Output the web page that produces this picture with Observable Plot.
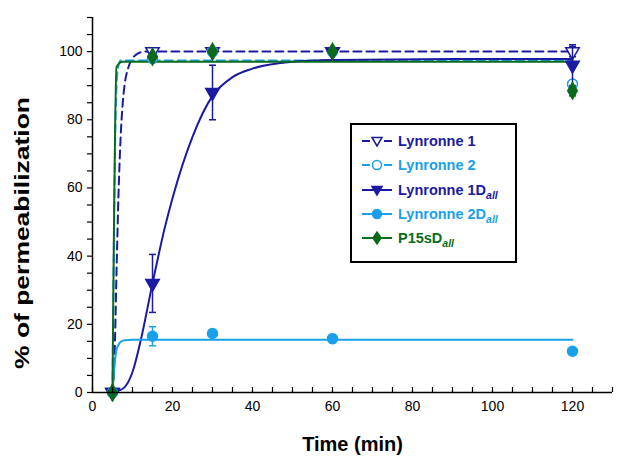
<!DOCTYPE html>
<html>
<head>
<meta charset="utf-8">
<script src="https://cdn.jsdelivr.net/npm/d3@7"></script>
<script src="https://cdn.jsdelivr.net/npm/@observablehq/plot@0.6"></script>
<style>
  body { margin: 0; background: #fff; font-family: "Liberation Sans", Arial, sans-serif; }
  #wrap { position: relative; width: 621px; height: 456px; }
  #legend { position: absolute; left: 350px; top: 123px; width: 163px; height: 136px;
            border: 2px solid #000; background: #fff; box-sizing: content-box; }
  .row { position: absolute; left: 10px; height: 20px; display: flex; align-items: center;
         font-weight: bold; font-size: 14.5px; white-space: nowrap; }
  .row svg { margin-right: 4px; }
  .sub { font-style: italic; font-size: 10.5px; position: relative; top: 4px; }
</style>
</head>
<body>
<div id="wrap"></div>
<script>
// ---- data ----
const times = [5, 15, 30, 60, 120];
const lyn1 = [0, 100, 100, 100, 100];
const lyn1Err = [0, 0.5, 0.3, 0.3, 1.5];
const lyn2 = [0, 98, 100, 100, 90.5];
const lyn2Err = [0, 1, 0, 0, 1];
const lyn1D = [0, 32, 88, 100, 96];
const lyn1DErr = [0, 8.5, 8, 0.5, 6];
const lyn2D = [0, 16.5, 17.3, 15.8, 12.1];
const lyn2DErr = [0, 2.8, 0.5, 1.2, 0.5];
const p15 = [0, 98.5, 100, 100, 88.5];
const p15Err = [0, 1, 0.5, 0.5, 1.5];

// fitted curves
const fitLyn1X = [5, 5.5, 6, 6.5, 7, 7.5, 8, 9, 10, 11, 13, 120];
const fitLyn1Y = [0, 10, 35, 58, 74, 84, 90, 95.5, 98, 99.2, 100, 100];
const fitLyn2X = [5, 5.5, 6, 6.5, 7, 120];
const fitLyn2Y = [0, 60, 90, 96, 97.4, 97.4];
const fitLyn1DX = [5, 6, 8, 10, 12, 15, 18, 20, 25, 30, 35, 40, 50, 60, 90, 120];
const fitLyn1DY = [0, 0.3, 1.5, 6, 15, 32, 48, 57, 75, 87, 92.5, 95, 97, 97.5, 97.8, 97.8];
const fitLyn2DX = [5, 5.5, 6, 6.5, 7, 8, 10, 120];
const fitLyn2DY = [0, 8, 12.5, 14, 14.8, 15.3, 15.5, 15.5];
const fitP15X = [5, 6, 7.5, 120];
const fitP15Y = [0, 95.5, 97, 97];

const xTicks = d3.range(0, 131, 5);
const xLabels = [0, 20, 40, 60, 80, 100, 120];
const yTicks = d3.range(0, 111, 5);
const yLabels = [0, 20, 40, 60, 80, 100];

const DARK = "#1a1aa3";
const LIGHT = "#1aa0ea";
const GREEN = "#0a6b1c";

const toPts = (ys, errs) => times.map((t, i) => ({x: t, y: ys[i], e: errs[i]}));
const toFit = (xs, ys) => xs.map((x, i) => ({x, y: ys[i]}));

const series = [
  {name: "Lynronne 1", pts: toPts(lyn1, lyn1Err), fit: toFit(fitLyn1X, fitLyn1Y), color: DARK, dash: "8,5", symbol: "triangle", rotate: 180, fill: "white"},
  {name: "Lynronne 2", pts: toPts(lyn2, lyn2Err), fit: toFit(fitLyn2X, fitLyn2Y), color: LIGHT, dash: "8,5", symbol: "circle", rotate: 0, fill: "white"},
  {name: "Lynronne 1D", pts: toPts(lyn1D, lyn1DErr), fit: toFit(fitLyn1DX, fitLyn1DY), color: DARK, dash: null, symbol: "triangle", rotate: 180, fill: DARK},
  {name: "Lynronne 2D", pts: toPts(lyn2D, lyn2DErr), fit: toFit(fitLyn2DX, fitLyn2DY), color: LIGHT, dash: null, symbol: "circle", rotate: 0, fill: LIGHT},
  {name: "P15sD", pts: toPts(p15, p15Err), fit: toFit(fitP15X, fitP15Y), color: GREEN, dash: null, symbol: "diamond", rotate: 0, fill: GREEN}
];

const capSymbol = {draw(ctx, size) { const w = 3.5; ctx.moveTo(-w, 0); ctx.lineTo(w, 0); }};

const marks = [];
for (const s of series) {
  marks.push(Plot.line(s.fit, {x: "x", y: "y", stroke: s.color, strokeWidth: 2, strokeDasharray: s.dash, curve: "monotone-x"}));
}
for (const s of series) {
  const eb = s.pts.filter(d => d.e > 0);
  marks.push(Plot.ruleX(eb, {x: "x", y1: d => d.y - d.e, y2: d => d.y + d.e, stroke: s.color, strokeWidth: 1.5}));
  marks.push(Plot.dot(eb, {x: "x", y: d => d.y - d.e, symbol: capSymbol, stroke: s.color, strokeWidth: 1.5, fill: "none", r: 3}));
  marks.push(Plot.dot(eb, {x: "x", y: d => d.y + d.e, symbol: capSymbol, stroke: s.color, strokeWidth: 1.5, fill: "none", r: 3}));
  marks.push(Plot.dot(s.pts, {x: "x", y: "y", symbol: s.symbol, rotate: s.rotate, r: 5, stroke: s.color, strokeWidth: 1.5, fill: s.fill}));
}

const chart = Plot.plot({
  width: 621,
  height: 456,
  marginLeft: 92,
  marginRight: 9,
  marginTop: 17,
  marginBottom: 64,
  style: {fontFamily: "Liberation Sans, Arial, sans-serif", fontSize: "14px", color: "#000", background: "#fff", overflow: "visible"},
  x: {domain: [0, 130]},
  y: {domain: [0, 110]},
  marks: [
    ...marks,
    Plot.axisX({ticks: xTicks, tickSize: -5, tickFormat: () => "", strokeWidth: 1.2, label: null}),
    Plot.axisX({ticks: xLabels, tickSize: 0, tickPadding: 9, fontSize: 14, label: null}),
    Plot.axisY({ticks: yTicks, tickSize: 5, tickFormat: d => (d % 20 === 0 && d <= 100) ? d : "", tickPadding: 5, fontSize: 14, label: null, strokeWidth: 1.2}),
    Plot.ruleX([0], {stroke: "#000", strokeWidth: 1.5}),
    Plot.ruleY([0], {stroke: "#000", strokeWidth: 1.5}),
    Plot.text(["Time (min)"], {frameAnchor: "bottom", dy: 58, fontSize: 20, fontWeight: "bold", fill: "#000"}),
    Plot.text(["% of permeabilization"], {frameAnchor: "left", textAnchor: "middle", dx: -70, dy: 28, rotate: -90, fontSize: 20, fontWeight: "bold", fill: "#000", className: "ylab"})
  ]
});

d3.select(chart).selectAll(".ylab text").attr("textLength", 272).attr("lengthAdjust", "spacingAndGlyphs");

const wrap = document.getElementById("wrap");
wrap.appendChild(chart);

// ---- legend ----
const legend = document.createElement("div");
legend.id = "legend";
const legendItems = [
  {label: "Lynronne 1", sub: null, s: series[0]},
  {label: "Lynronne 2", sub: null, s: series[1]},
  {label: "Lynronne 1D", sub: "all", s: series[2]},
  {label: "Lynronne 2D", sub: "all", s: series[3]},
  {label: "P15sD", sub: "all", s: series[4]}
];
const symPath = {
  triangle: "M0,5 L-5,-3.5 L5,-3.5 Z",
  diamond: "M0,-6 L4,0 L0,6 L-4,0 Z"
};
legendItems.forEach((it, i) => {
  const row = document.createElement("div");
  row.className = "row";
  row.style.top = (6 + i * 24.3) + "px";
  const s = it.s;
  let marker;
  if (s.symbol === "circle") marker = `<circle cx="15" cy="10" r="4.5" fill="${s.fill}" stroke="${s.color}" stroke-width="1.5"/>`;
  else marker = `<path transform="translate(15,10)" d="${symPath[s.symbol]}" fill="${s.fill}" stroke="${s.color}" stroke-width="1.5"/>`;
  const lineSeg = s.dash
    ? `<line x1="0" y1="10" x2="8" y2="10" stroke="${s.color}" stroke-width="2"/><line x1="22" y1="10" x2="30" y2="10" stroke="${s.color}" stroke-width="2"/>`
    : `<line x1="0" y1="10" x2="30" y2="10" stroke="${s.color}" stroke-width="2"/>`;
  row.innerHTML = `<svg width="32" height="20">${lineSeg}${marker}</svg><span style="color:${s.color}">${it.label}${it.sub ? `<span class="sub">${it.sub}</span>` : ""}</span>`;
  legend.appendChild(row);
});
wrap.appendChild(legend);
</script>
</body>
</html>
